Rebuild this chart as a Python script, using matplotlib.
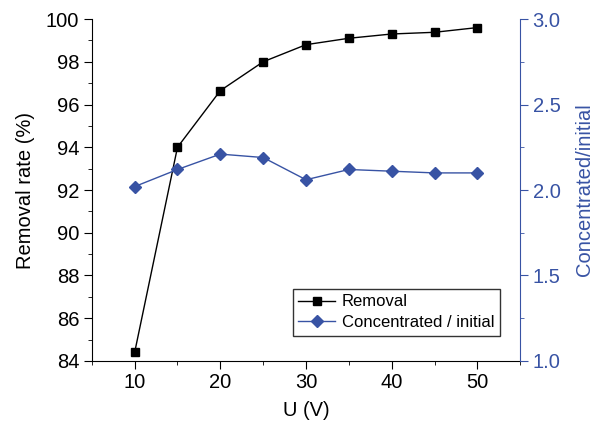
import matplotlib
matplotlib.use('Agg')

import matplotlib.pyplot as plt
from matplotlib.ticker import MultipleLocator

# Datos
voltaje = [10, 15, 20, 25, 30, 35, 40, 45, 50]
remocion = [84.4, 94.0, 96.65, 98.0, 98.8, 99.1, 99.3, 99.38, 99.6]
concentrado = [2.02, 2.12, 2.21, 2.19, 2.06, 2.12, 2.11, 2.10, 2.10]

azul = '#3853a4'
plt.rcParams['font.family'] = ['Liberation Sans', 'DejaVu Sans']

fig = plt.figure(figsize=(6, 4.23), dpi=100)
ax = fig.add_axes([0.153, 0.1466, 0.714, 0.8084])
ax2 = ax.twinx()

l1, = ax.plot(voltaje, remocion, color='black', lw=1, marker='s', ms=5.5,
              label='Removal')
l2, = ax2.plot(voltaje, concentrado, color=azul, lw=1, marker='D', ms=6,
               label='Concentrated / initial')

ax.set_xlim(5, 55)
ax.set_ylim(84, 100)
ax2.set_ylim(1.0, 3.0)

ax.xaxis.set_major_locator(MultipleLocator(10))
ax.xaxis.set_minor_locator(MultipleLocator(5))
ax.yaxis.set_major_locator(MultipleLocator(2))
ax.yaxis.set_minor_locator(MultipleLocator(1))
ax2.yaxis.set_major_locator(MultipleLocator(0.5))
ax2.yaxis.set_minor_locator(MultipleLocator(0.25))
ax2.yaxis.set_major_formatter(plt.FormatStrFormatter('%.1f'))

for a in (ax, ax2):
    a.spines['top'].set_visible(False)
ax.spines['right'].set_visible(False)
ax2.spines['left'].set_visible(False)
ax2.spines['bottom'].set_visible(False)
ax2.spines['right'].set_color(azul)

ax.tick_params(which='major', direction='out', length=6, labelsize=14.5,
               pad=3)
ax.tick_params(which='minor', direction='out', length=3)
ax2.tick_params(which='major', direction='out', length=6, labelsize=14.5,
                colors=azul, pad=3)
ax2.tick_params(which='minor', direction='out', length=3, colors=azul)

ax.set_xlabel('U (V)', fontsize=14.5, labelpad=6)
ax.set_ylabel('Removal rate (%)', fontsize=14.5, labelpad=8)
ax2.set_ylabel('Concentrated/initial', fontsize=14.5, color=azul,
               labelpad=10)

leg = ax.legend(handles=[l1, l2], loc='lower right',
                bbox_to_anchor=(0.953, 0.073), fontsize=12, frameon=True,
                fancybox=False, edgecolor='black', handlelength=2.2,
                borderaxespad=0, handletextpad=0.4, labelspacing=0.35,
                borderpad=0.35)
leg.get_frame().set_linewidth(1)
leg.set_zorder(5)

plt.savefig('out.png', dpi=100)
plt.close(fig)
